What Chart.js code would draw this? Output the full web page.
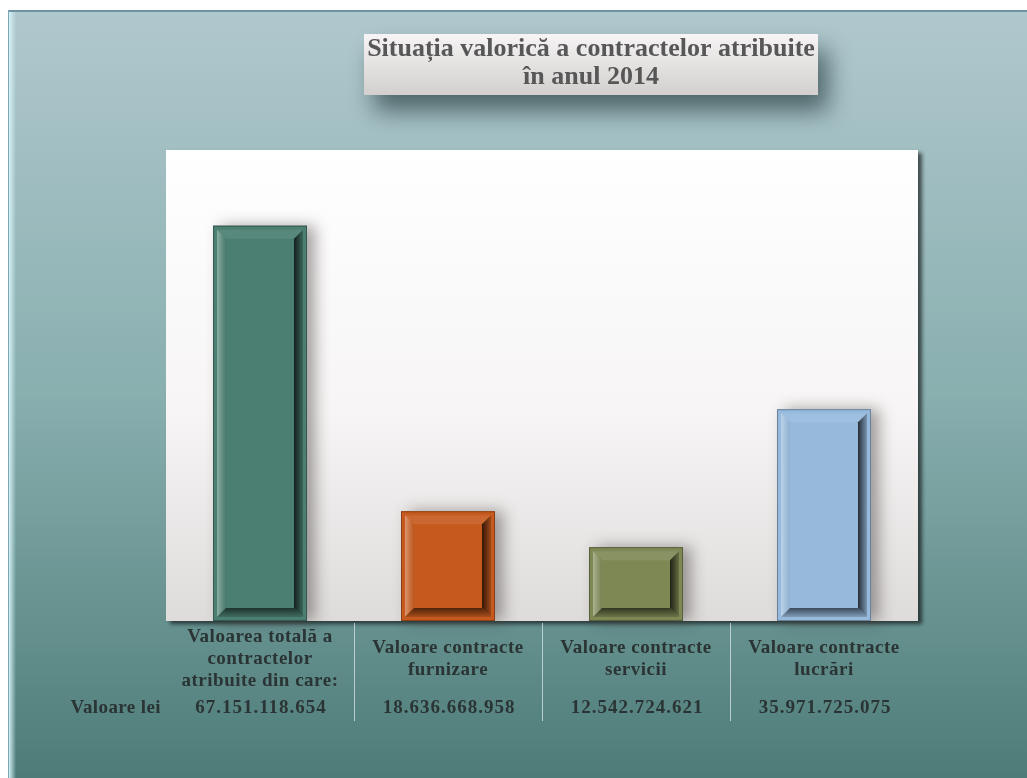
<!DOCTYPE html>
<html>
<head>
<meta charset="utf-8">
<script src="https://cdn.jsdelivr.net/npm/chart.js@4"></script>
<style>
  html, body { margin: 0; padding: 0; background: #ffffff; }
  #canvasBox { width: 1027px; height: 778px; }
</style>
</head>
<body>
<div id="canvasBox"><canvas id="barChart"></canvas></div>
<script>
const titleLines = ["Situația valorică a contractelor atribuite", "în anul 2014"];
const categories = [
  ["Valoarea totală a", "contractelor", "atribuite din care:"],
  ["Valoare contracte", "furnizare"],
  ["Valoare contracte", "servicii"],
  ["Valoare contracte", "lucrări"],
];
const values = [67151118654, 18636668958, 12542724621, 35971725075];
const rowLabel = "Valoare lei";
const barColors = ["#4b7f72", "#c65a1e", "#7e8855", "#96b9dc"];
const yMax = 80000000000;

const serif = "'Liberation Serif', 'DejaVu Serif', serif";
const textColor = "#2b3434";

function formatLei(v) {
  return String(v).replace(/\B(?=(\d{3})+(?!\d))/g, ".");
}

function mix(hex, toWhite, t) {
  const n = parseInt(hex.slice(1), 16);
  const r = (n >> 16) & 255, g = (n >> 8) & 255, b = n & 255;
  const c = toWhite ? 255 : 0;
  return `rgb(${Math.round(r + (c - r) * t)}, ${Math.round(g + (c - g) * t)}, ${Math.round(b + (c - b) * t)})`;
}

function poly(ctx, pts, fill) {
  ctx.beginPath();
  ctx.moveTo(pts[0][0], pts[0][1]);
  pts.slice(1).forEach(p => ctx.lineTo(p[0], p[1]));
  ctx.closePath();
  ctx.fillStyle = fill;
  ctx.fill();
}

function drawBevel(ctx, L, T, R, B, color) {
  const o = 4, w = 9;
  const a = { l: L + o, t: T + o, r: R - o, b: B - o };
  const i = { l: a.l + w, t: a.t + w, r: a.r - w, b: a.b - w };

  poly(ctx, [[a.l, a.t], [a.r, a.t], [i.r, i.t], [i.l, i.t]], mix(color, true, 0.08));

  let g = ctx.createLinearGradient(a.l, 0, i.l, 0);
  g.addColorStop(0, mix(color, true, 0.35));
  g.addColorStop(1, mix(color, false, 0.05));
  poly(ctx, [[a.l, a.t], [i.l, i.t], [i.l, i.b], [a.l, a.b]], g);

  g = ctx.createLinearGradient(i.r, 0, a.r, 0);
  g.addColorStop(0, mix(color, false, 0.75));
  g.addColorStop(1, mix(color, false, 0.2));
  poly(ctx, [[a.r, a.t], [a.r, a.b], [i.r, i.b], [i.r, i.t]], g);

  g = ctx.createLinearGradient(0, i.b, 0, a.b);
  g.addColorStop(0, mix(color, false, 0.6));
  g.addColorStop(1, mix(color, false, 0.15));
  poly(ctx, [[a.l, a.b], [a.r, a.b], [i.r, i.b], [i.l, i.b]], g);

  ctx.strokeStyle = mix(color, false, 0.3);
  ctx.lineWidth = 1;
  ctx.strokeRect(L + 0.5, T + 0.5, R - L - 1, B - T - 1);
}

const decorPlugin = {
  id: "decor",
  beforeLayout(chart) {
    chart.ctx.letterSpacing = "0.5px";
  },
  beforeDraw(chart) {
    const ctx = chart.ctx;
    const { width, height, chartArea } = chart;
    ctx.letterSpacing = "0.5px";
    ctx.save();
    ctx.letterSpacing = "0px";

    // outer frame
    const bg = ctx.createLinearGradient(0, 10, 0, height);
    bg.addColorStop(0, "#b0c8cd");
    bg.addColorStop(0.5, "#89afaf");
    bg.addColorStop(1, "#4d7c78");
    ctx.fillStyle = bg;
    ctx.fillRect(8, 10, width - 8, height - 10);
    ctx.fillStyle = "#6f93a3";
    ctx.fillRect(8, 10, width - 8, 2);
    const edge = ctx.createLinearGradient(9, 0, 16, 0);
    edge.addColorStop(0, "rgba(215, 245, 250, 0.95)");
    edge.addColorStop(1, "rgba(215, 245, 250, 0)");
    ctx.fillStyle = edge;
    ctx.fillRect(9, 12, 7, height - 12);
    ctx.fillStyle = "#7fa6b4";
    ctx.fillRect(8, 10, 1, height - 10);

    // title box
    const bx = 364, by = 34, bw = 454, bh = 61;
    ctx.save();
    ctx.shadowColor = "rgba(30, 50, 55, 0.65)";
    ctx.shadowBlur = 24;
    ctx.shadowOffsetX = 10;
    ctx.shadowOffsetY = 16;
    const tg = ctx.createLinearGradient(0, by, 0, by + bh);
    tg.addColorStop(0, "#f6f4f4");
    tg.addColorStop(1, "#d3cfcf");
    ctx.fillStyle = tg;
    ctx.fillRect(bx, by, bw, bh);
    ctx.restore();

    ctx.fillStyle = "#575757";
    ctx.font = `bold 26px ${serif}`;
    ctx.textAlign = "center";
    ctx.textBaseline = "middle";
    titleLines.forEach((line, k) => ctx.fillText(line, bx + bw / 2, 49 + k * 28));

    // plot area
    ctx.save();
    ctx.shadowColor = "rgba(0, 0, 0, 0.6)";
    ctx.shadowBlur = 4;
    ctx.shadowOffsetX = 4;
    ctx.shadowOffsetY = 3;
    const pg = ctx.createLinearGradient(0, chartArea.top, 0, chartArea.bottom);
    pg.addColorStop(0, "#ffffff");
    pg.addColorStop(0.55, "#f7f5f5");
    pg.addColorStop(1, "#dedbdb");
    ctx.fillStyle = pg;
    ctx.fillRect(chartArea.left, chartArea.top, chartArea.right - chartArea.left, chartArea.bottom - chartArea.top);
    ctx.restore();

    ctx.restore();
  },
  beforeDatasetsDraw(chart) {
    const ctx = chart.ctx;
    ctx.save();
    ctx.shadowColor = "rgba(60, 50, 50, 0.45)";
    ctx.shadowBlur = 14;
    ctx.shadowOffsetX = 8;
    ctx.shadowOffsetY = 0;
    chart.getDatasetMeta(0).data.forEach(bar => {
      const { x, y, base, width } = bar.getProps(["x", "y", "base", "width"], true);
      ctx.fillStyle = "rgba(200, 195, 195, 1)";
      ctx.fillRect(x - width / 2, y, width, base - y);
    });
    ctx.restore();
  },
  afterDatasetsDraw(chart) {
    const ctx = chart.ctx;
    ctx.save();
    chart.getDatasetMeta(0).data.forEach((bar, i) => {
      const { x, y, base, width } = bar.getProps(["x", "y", "base", "width"], true);
      drawBevel(ctx, x - width / 2, y, x + width / 2, base, barColors[i]);
    });
    ctx.restore();
  },
  afterDraw(chart) {
    const ctx = chart.ctx;
    const xs = chart.scales.x;
    const area = chart.chartArea;
    ctx.save();

    // table separators
    ctx.strokeStyle = "rgba(215, 230, 230, 0.75)";
    ctx.lineWidth = 1;
    for (let i = 1; i < categories.length; i++) {
      const sx = Math.round((xs.getPixelForValue(i - 1) + xs.getPixelForValue(i)) / 2) + 0.5;
      ctx.beginPath();
      ctx.moveTo(sx, area.bottom + 2);
      ctx.lineTo(sx, area.bottom + 100);
      ctx.stroke();
    }

    // values row
    ctx.fillStyle = textColor;
    ctx.font = `bold 19px ${serif}`;
    ctx.textBaseline = "middle";
    ctx.letterSpacing = "1px";
    ctx.textAlign = "center";
    values.forEach((v, i) => ctx.fillText(formatLei(v), xs.getPixelForValue(i) + 1, 708));
    ctx.letterSpacing = "0.4px";
    ctx.textAlign = "right";
    ctx.fillText(rowLabel, area.left - 5, 708);
    ctx.restore();
  },
};

const ctx = document.getElementById("barChart").getContext("2d");
const barChart = new Chart(ctx, {
  type: "bar",
  data: {
    labels: categories,
    datasets: [
      {
        data: values,
        backgroundColor: barColors,
        borderWidth: 0,
        barPercentage: 0.5,
        categoryPercentage: 1,
      },
    ],
  },
  options: {
    responsive: true,
    maintainAspectRatio: false,
    animation: false,
    layout: {
      padding: { left: 166, right: 109, top: 150, bottom: 57 },
    },
    plugins: {
      legend: { display: false },
      title: { display: false },
      tooltip: { enabled: false },
    },
    scales: {
      x: {
        grid: { display: false, drawTicks: false },
        border: { display: false },
        ticks: {
          color: textColor,
          padding: 16,
          crossAlign: "center",
          maxRotation: 0,
          autoSkip: false,
          font: { family: serif, size: 19, weight: "bold", lineHeight: 1.158 },
        },
        afterFit(scale) {
          scale.height = 100;
        },
      },
      y: {
        display: false,
        beginAtZero: true,
        min: 0,
        max: yMax,
      },
    },
  },
  plugins: [decorPlugin],
});
</script>
</body>
</html>
